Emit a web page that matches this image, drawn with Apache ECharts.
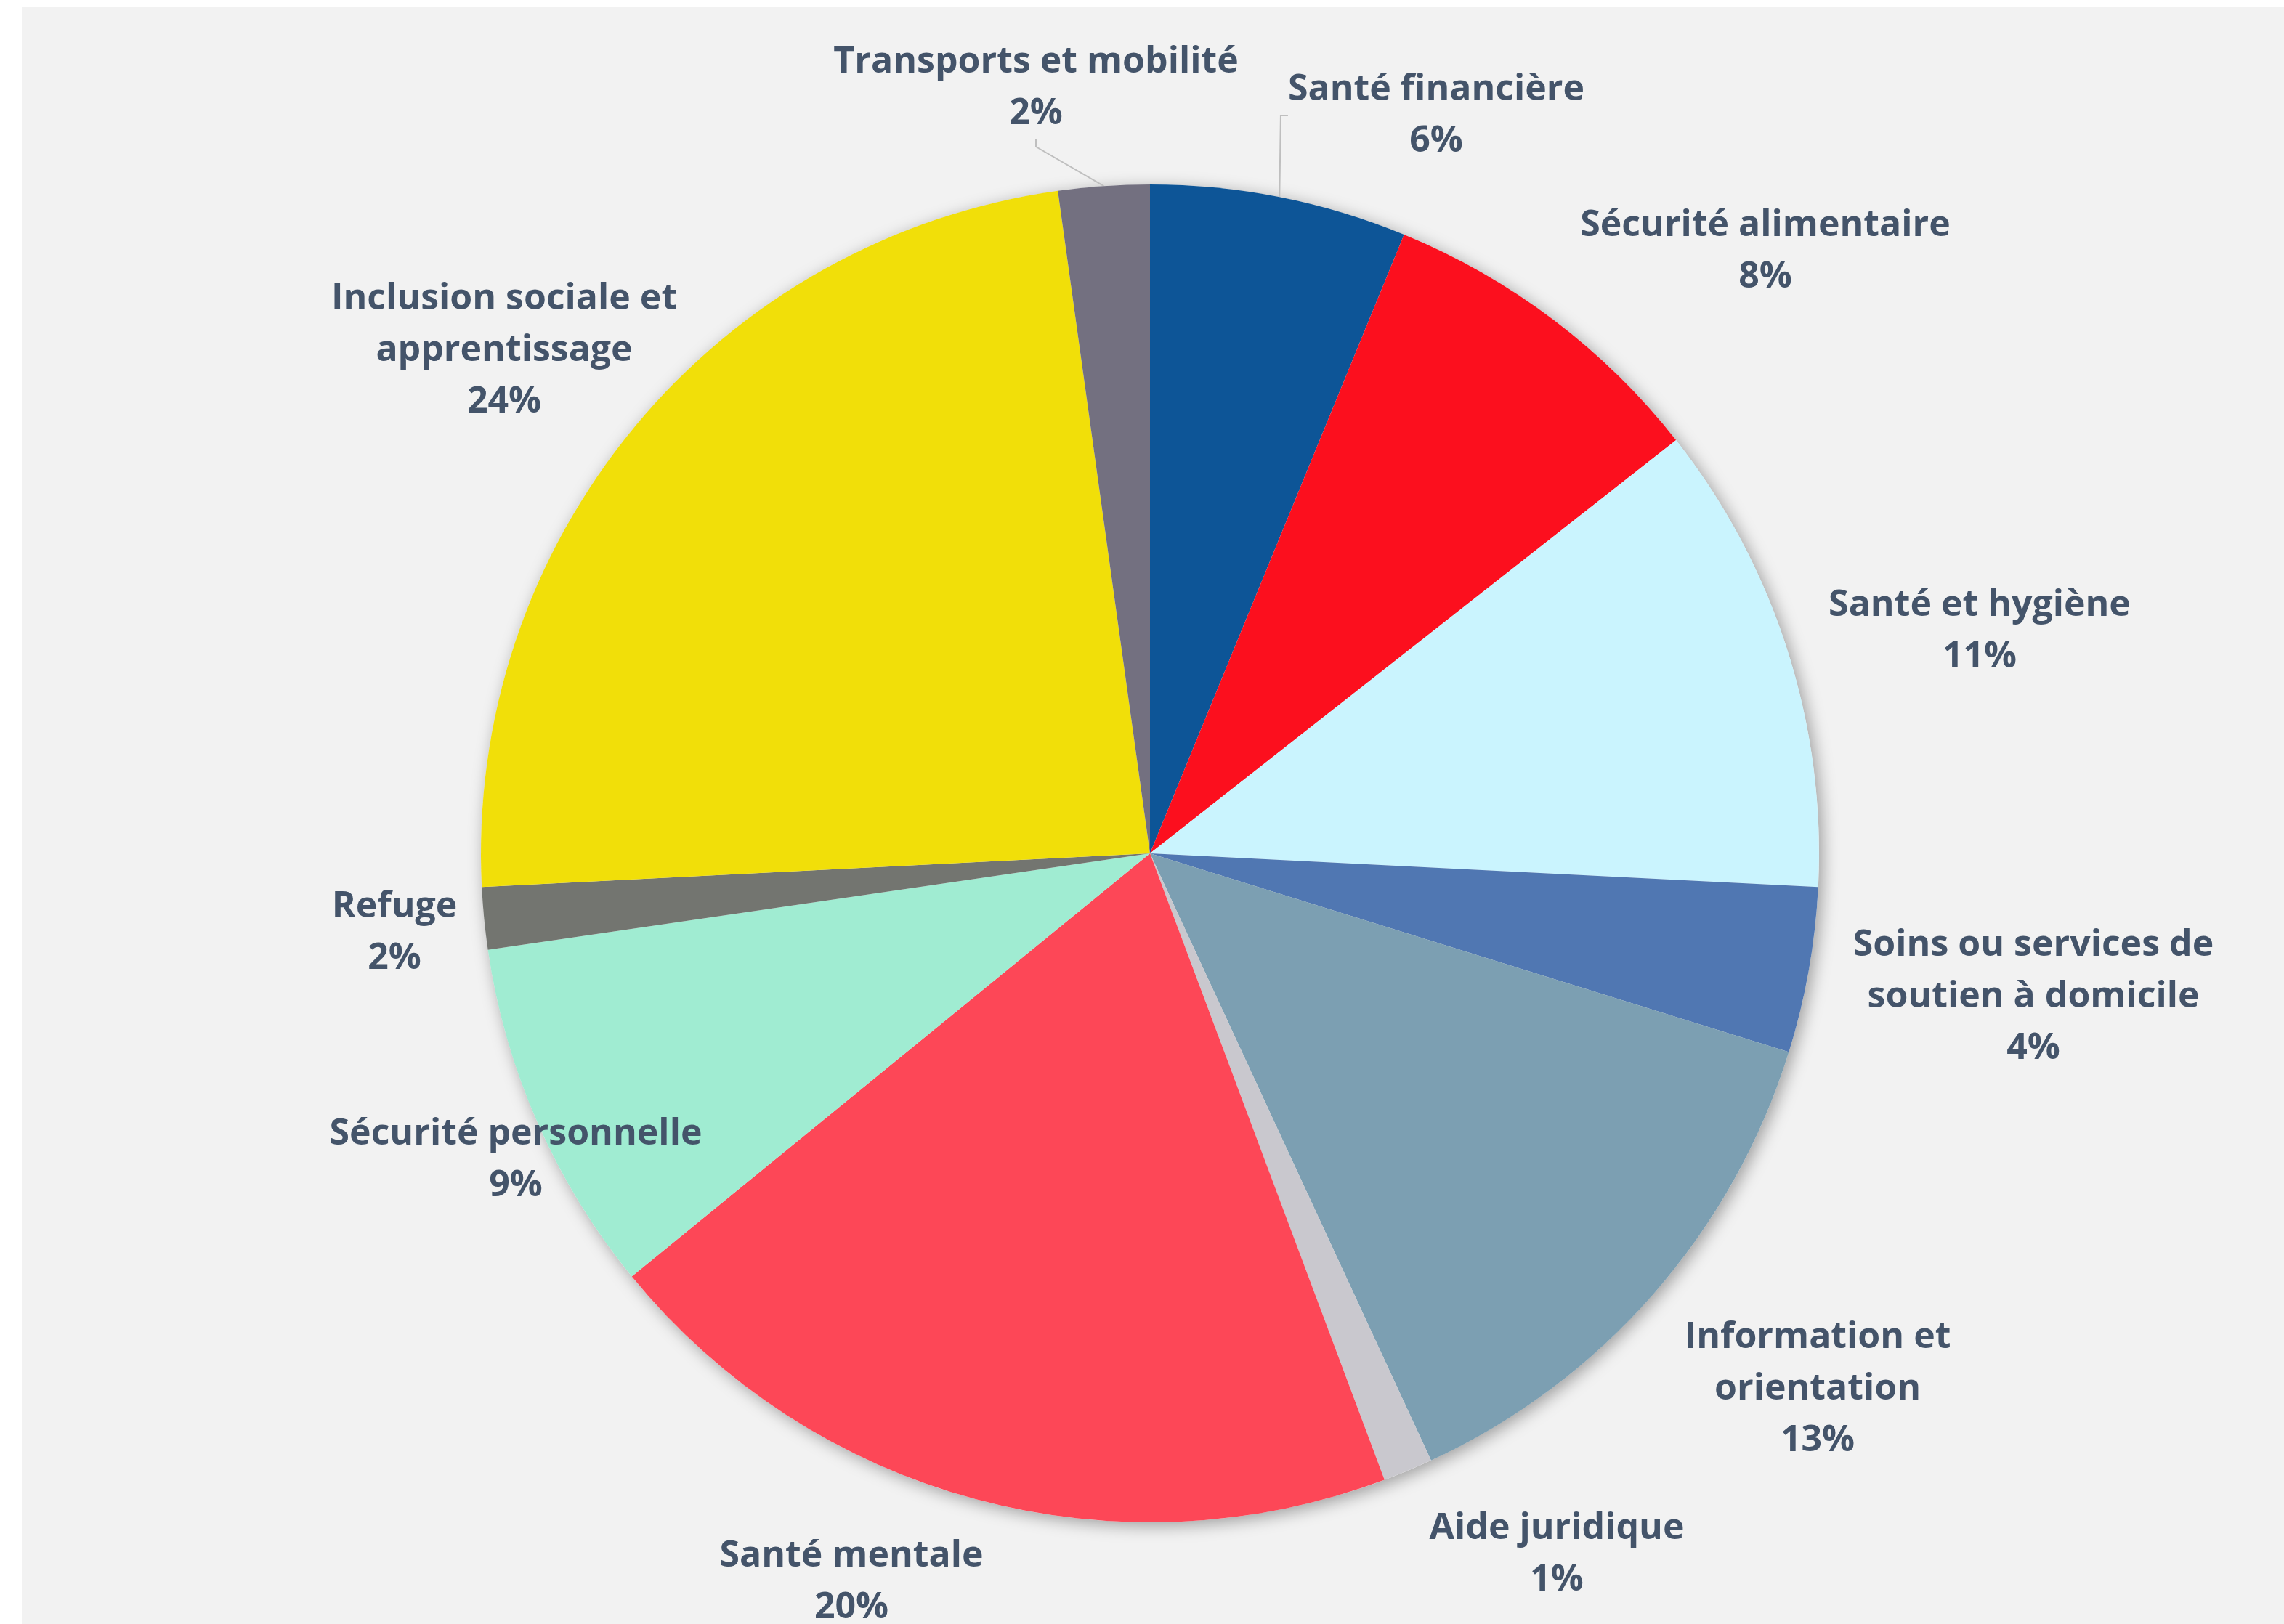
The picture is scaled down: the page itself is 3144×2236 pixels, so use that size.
<!DOCTYPE html>
<html>
<head>
<meta charset="utf-8">
<script src="https://cdn.jsdelivr.net/npm/echarts@6/dist/echarts.min.js"></script>
<style>
html,body{margin:0;padding:0;background:#ffffff;width:3144px;height:2236px;overflow:hidden;}
#chart{position:absolute;left:30px;top:9px;width:3114px;height:2227px;background:#F2F2F2;}
</style>
</head>
<body>
<div id="chart"></div>
<script>
// Categories (clockwise from 12 o'clock)
var categories = [
  "Santé financière",
  "Sécurité alimentaire",
  "Santé et hygiène",
  "Soins ou services de soutien à domicile",
  "Information et orientation",
  "Aide juridique",
  "Santé mentale",
  "Sécurité personnelle",
  "Refuge",
  "Inclusion sociale et apprentissage",
  "Transports et mobilité"
];
// Label text as wrapped in the original
var labelNames = [
  "Santé financière",
  "Sécurité alimentaire",
  "Santé et hygiène",
  "Soins ou services de\nsoutien à domicile",
  "Information et\norientation",
  "Aide juridique",
  "Santé mentale",
  "Sécurité personnelle",
  "Refuge",
  "Inclusion sociale et\napprentissage",
  "Transports et mobilité"
];
// Share values (percent)
var values = [6.2, 8.2, 11.4, 4.0, 13.3, 1.2, 19.8, 8.6, 1.5, 23.6, 2.2];

var colors = ["#0D5597", "#FC0F1E", "#CAF4FE", "#5077B2", "#7C9FB2", "#C9C8CE",
              "#FD4757", "#A0ECD2", "#737570", "#F1DF09", "#737080"];

// Label block centres (chart coordinates) as laid out in the original
var labelX = [1947, 2400, 2695, 2769, 2472, 2113, 1142, 680, 513, 664, 1396];
var labelY = [150, 337, 860, 1364, 1904, 2131, 2169, 1588, 1275, 474, 112];
var showLine = [true, false, false, false, false, false, false, false, false, false, true];

var chart = echarts.init(document.getElementById('chart'), null, {renderer: 'canvas'});

var data = categories.map(function (c, i) {
  return {
    name: c,
    value: values[i],
    itemStyle: {color: colors[i]},
    labelLine: {show: showLine[i]}
  };
});

var center = [1553, 1166];
var radius = 921;

chart.setOption({
  backgroundColor: '#F2F2F2',
  animation: false,
  series: [
    {
      type: 'pie',
      silent: true,
      center: center,
      radius: radius,
      z: 1,
      label: {show: false},
      labelLine: {show: false},
      itemStyle: {color: '#F2F2F2', shadowBlur: 22, shadowOffsetX: 5, shadowOffsetY: 5, shadowColor: 'rgba(0,0,0,0.35)'},
      data: [{value: 1, name: ''}]
    },
    {
      type: 'pie',
      center: center,
      radius: radius,
      z: 2,
      startAngle: 90,
      clockwise: true,
      avoidLabelOverlap: false,
      itemStyle: {borderWidth: 0},
      label: {
        show: true,
        position: 'outside',
        formatter: function (p) {
          return labelNames[p.dataIndex] + '\n' + Math.round(p.percent) + '%';
        },
        fontFamily: '"Open Sans", "Noto Sans", sans-serif',
        fontWeight: 'bold',
        fontSize: 50,
        lineHeight: 71,
        color: '#44546A',
        align: 'center'
      },
      labelLine: {
        show: true,
        length: 20,
        length2: 10,
        lineStyle: {color: '#BFBFBF', width: 2}
      },
      labelLayout: function (params) {
        var i = params.dataIndex;
        return {
          x: labelX[i],
          y: labelY[i],
          align: 'center',
          verticalAlign: 'middle',
          hideOverlap: false
        };
      },
      data: data
    }
  ]
});
</script>
</body>
</html>
